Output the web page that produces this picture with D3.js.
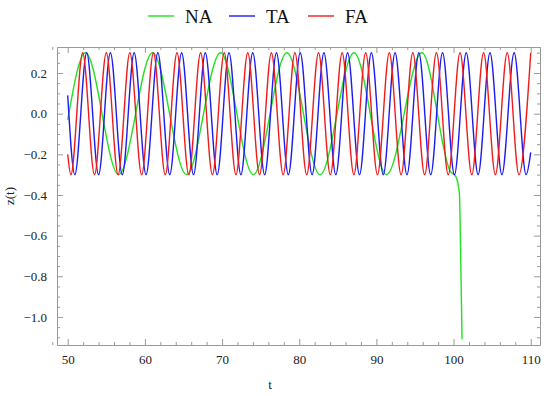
<!DOCTYPE html>
<html>
<head>
<meta charset="utf-8">
<script src="https://cdn.jsdelivr.net/npm/d3@7"></script>
<style>
  body { margin: 0; background: #fff; }
  svg text { font-family: "Liberation Serif", "Times New Roman", serif !important; }
</style>
</head>
<body>
<svg id="chart" width="550" height="396"></svg>
<script>
// series names and colours
var seriesNames = ["NA", "TA", "FA"];
var seriesColors = ["#22e022", "#1c1cf0", "#f01c1c"];

// NA: turning points (t, z)
var naT = [50, 52.3, 56.6, 61.0, 65.4, 69.8, 74.05, 78.4, 82.7, 87.1, 91.3, 95.9, 99.6, 100.3, 100.75, 100.93, 101.1];
var naZ = [-0.03, 0.3, -0.3, 0.3, -0.3, 0.3, -0.3, 0.3, -0.3, 0.3, -0.3, 0.3, -0.285, -0.31, -0.39, -0.72, -1.11];

// TA: start, peaks/troughs, end
var taT = [50, 50.92, 52.46, 54.0, 55.53, 57.07, 58.61, 60.15, 61.68, 63.22, 64.76, 66.3, 67.83, 69.37, 70.9, 72.44,
    73.98, 75.52, 77.05, 78.59, 80.13, 81.67, 83.2, 84.74, 86.27, 87.81, 89.35, 90.89, 92.42, 93.96, 95.5, 97.04,
    98.57, 100.11, 101.64, 103.18, 104.72, 106.26, 107.85, 109.4, 110];
var taZ = [0.09, -0.3, 0.3, -0.3, 0.3, -0.3, 0.3, -0.3, 0.3, -0.3, 0.3, -0.3, 0.3, -0.3, 0.3, -0.3,
    0.3, -0.3, 0.3, -0.3, 0.3, -0.3, 0.3, -0.3, 0.3, -0.3, 0.3, -0.3, 0.3, -0.3, 0.3, -0.3,
    0.3, -0.3, 0.3, -0.3, 0.3, -0.3, 0.3, -0.3, -0.19];

// FA: start, peaks/troughs
var faT = [50, 50.41, 51.94, 53.47, 55.0, 56.53, 58.05, 59.58, 61.11, 62.64, 64.16, 65.69, 67.22, 68.75, 70.28, 71.8,
    73.33, 74.86, 76.39, 77.92, 79.44, 80.97, 82.5, 84.03, 85.56, 87.08, 88.61, 90.14, 91.67, 93.2, 94.72, 96.25,
    97.78, 99.31, 100.84, 102.36, 103.89, 105.42, 106.95, 108.47, 110.0];
var faZ = [-0.2, -0.3, 0.3, -0.3, 0.3, -0.3, 0.3, -0.3, 0.3, -0.3, 0.3, -0.3, 0.3, -0.3, 0.3, -0.3,
    0.3, -0.3, 0.3, -0.3, 0.3, -0.3, 0.3, -0.3, 0.3, -0.3, 0.3, -0.3, 0.3, -0.3, 0.3, -0.3,
    0.3, -0.3, 0.3, -0.3, 0.3, -0.3, 0.3, -0.3, 0.3];

// ticks
var xTicks = [50, 60, 70, 80, 90, 100, 110];
var yTicks = [0.2, 0.0, -0.2, -0.4, -0.6, -0.8, -1.0];

var plot = { left: 57, right: 540, top: 47, bottom: 345 };
var frameColor = "#9a9a9a";

var svg = d3.select("#chart");

var x = d3.scaleLinear().domain([48.61, 111.2]).range([plot.left, plot.right]);
var y = d3.scaleLinear().domain([-1.138, 0.328]).range([plot.bottom, plot.top]);

//clip for the curves
svg.append("clipPath").attr("id", "clip")
    .append("rect")
    .attr("x", plot.left).attr("y", plot.top)
    .attr("width", plot.right - plot.left).attr("height", plot.bottom - plot.top);

var series = [
    { name: "NA", t: naT, z: naZ },
    { name: "TA", t: taT, z: taZ },
    { name: "FA", t: faT, z: faZ }
];

var line = d3.line()
    .curve(d3.curveMonotoneX)
    .x(function(d) { return x(d[0]); })
    .y(function(d) { return y(d[1]); });

svg.append("g").attr("clip-path", "url(#clip)")
    .selectAll("path")
    .data(series)
    .enter().append("path")
    .attr("d", function(s) { return line(s.t.map(function(t, i) { return [t, s.z[i]]; })); })
    .style("fill", "none")
    .style("stroke", function(s, i) { return seriesColors[i]; })
    .style("stroke-width", 1.4);

//frame with ticks on all four sides (Mathematica style)
var xMinor = d3.range(48, 112, 2).filter(function(v) { return v % 10 !== 0; });
var yMinor = d3.range(-1.1, 0.33, 0.05).filter(function(v) { return Math.abs(Math.round(v * 5) - v * 5) > 0.01; });

var bottomAxis = d3.axisBottom(x).tickValues(xTicks).tickSizeInner(-6).tickSizeOuter(0).tickPadding(10).tickFormat(d3.format("d"));
var topAxis = d3.axisTop(x).tickValues(xTicks).tickSizeInner(-6).tickSizeOuter(0).tickFormat("");
var leftAxis = d3.axisLeft(y).tickValues(yTicks).tickSizeInner(-6).tickSizeOuter(0).tickPadding(10)
    .tickFormat(function(d) { return d3.format(".1f")(d).replace("-", "\u2212"); });
var rightAxis = d3.axisRight(y).tickValues(yTicks).tickSizeInner(-6).tickSizeOuter(0).tickFormat("");

function minor(g, axisFn, scale, vals) {
    g.call(axisFn(scale).tickValues(vals).tickSizeInner(-3).tickSizeOuter(0).tickFormat(""));
}

svg.append("g").attr("transform", "translate(0," + plot.bottom + ")").call(bottomAxis);
minor(svg.append("g").attr("transform", "translate(0," + plot.bottom + ")"), d3.axisBottom, x, xMinor);
svg.append("g").attr("transform", "translate(0," + plot.top + ")").call(topAxis);
minor(svg.append("g").attr("transform", "translate(0," + plot.top + ")"), d3.axisTop, x, xMinor);
svg.append("g").attr("transform", "translate(" + plot.left + ",0)").call(leftAxis);
minor(svg.append("g").attr("transform", "translate(" + plot.left + ",0)"), d3.axisLeft, y, yMinor);
svg.append("g").attr("transform", "translate(" + plot.right + ",0)").call(rightAxis);
minor(svg.append("g").attr("transform", "translate(" + plot.right + ",0)"), d3.axisRight, y, yMinor);

// drop the axis default font so the serif rule applies
svg.selectAll("g").attr("font-family", null).attr("font-size", null);
svg.selectAll(".domain, .tick line").style("stroke", frameColor).style("stroke-width", 1);
svg.selectAll(".tick text")
    .style("font-size", "13px")
    .style("fill", "#222");

//axis titles
svg.append("text")
    .attr("x", 270)
    .attr("y", 389)
    .attr("text-anchor", "middle")
    .style("font-size", "13px")
    .style("fill", "#222")
    .text("t");

svg.append("text")
    .attr("transform", "translate(14," + 196 + ") rotate(-90)")
    .attr("text-anchor", "middle")
    .style("font-size", "13px")
    .style("fill", "#222")
    .text("z(t)");

//legend
var legendX = [148, 229, 308];
var legend = svg.append("g").selectAll("g")
    .data(seriesNames)
    .enter().append("g")
    .attr("transform", function(d, i) { return "translate(" + legendX[i] + ",16)"; });
legend.append("line")
    .attr("x1", 0).attr("x2", 26).attr("y1", 0).attr("y2", 0)
    .style("stroke", function(d, i) { return seriesColors[i]; })
    .style("stroke-width", 1.4);
legend.append("text")
    .attr("x", 37).attr("y", 7)
    .style("font-size", "19px")
    .style("fill", "#111")
    .text(function(d) { return d; });
</script>
</body>
</html>
